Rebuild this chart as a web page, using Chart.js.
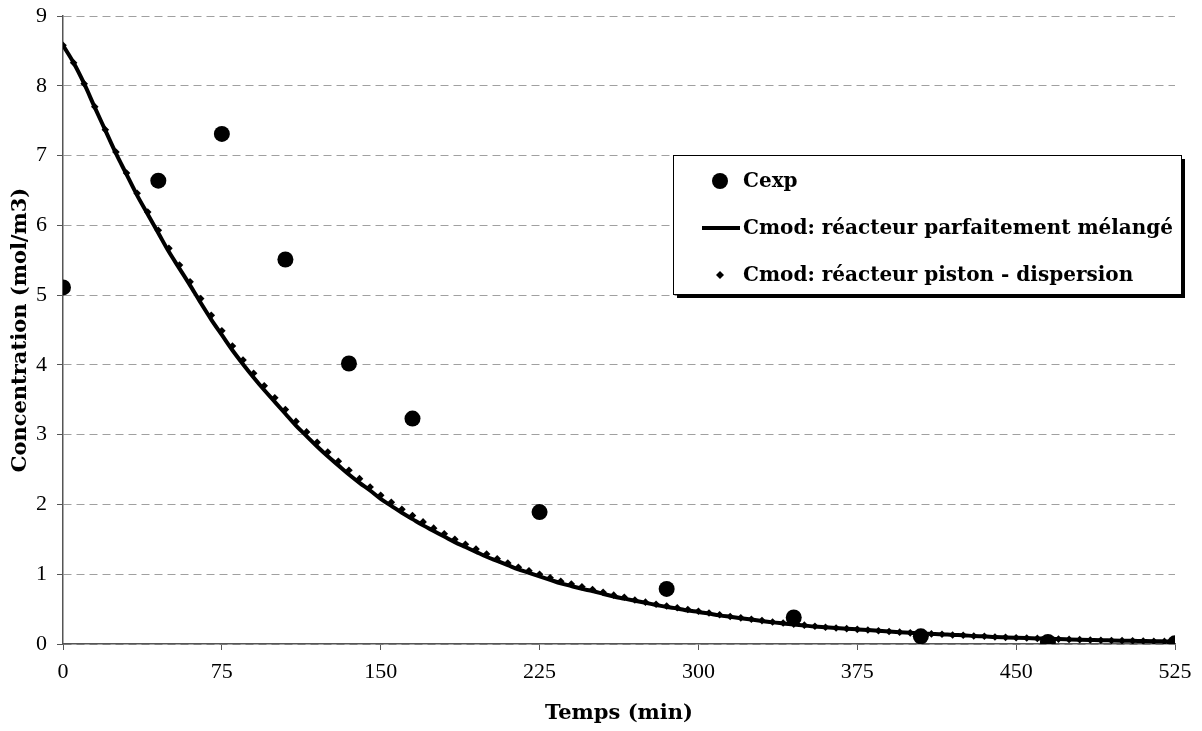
<!DOCTYPE html>
<html>
<head>
<meta charset="utf-8">
<script src="https://cdn.jsdelivr.net/npm/chart.js@4/dist/chart.umd.min.js"></script>
<style>
  html, body { margin: 0; padding: 0; background: #fff; }
  #wrap { width: 1202px; height: 731px; position: relative; }
</style>
</head>
<body>
<div id="wrap"><canvas id="chart" width="1202" height="731"></canvas></div>
<script>
// experimental points
const expTimes = [0, 45, 75, 105, 135, 165, 225, 285, 345, 405, 465, 525];
const expConc = [5.11, 6.64, 7.31, 5.51, 4.02, 3.23, 1.89, 0.79, 0.38, 0.11, 0.03, 0.01];

// model curves, read every 5 min
const modTimes = [
  0, 5, 10, 15, 20, 25, 30, 35, 40, 45, 50, 55, 60, 65, 70, 75, 80, 85, 90, 95,
  100, 105, 110, 115, 120, 125, 130, 135, 140, 145, 150, 155, 160, 165, 170, 175, 180, 185, 190, 195,
  200, 205, 210, 215, 220, 225, 230, 235, 240, 245, 250, 255, 260, 265, 270, 275, 280, 285, 290, 295,
  300, 305, 310, 315, 320, 325, 330, 335, 340, 345, 350, 355, 360, 365, 370, 375, 380, 385, 390, 395,
  400, 405, 410, 415, 420, 425, 430, 435, 440, 445, 450, 455, 460, 465, 470, 475, 480, 485, 490, 495,
  500, 505, 510, 515, 520, 525
];
const mixedConc = [
  8.58, 8.33, 8.03, 7.69, 7.36, 7.03, 6.73, 6.43, 6.16, 5.89, 5.62, 5.38, 5.14, 4.89, 4.65, 4.43, 4.21, 4.01, 3.82, 3.64,
  3.47, 3.30, 3.13, 2.98, 2.83, 2.69, 2.56, 2.43, 2.31, 2.20, 2.08, 1.98, 1.88, 1.79, 1.70, 1.62, 1.54, 1.46, 1.39, 1.32,
  1.25, 1.19, 1.13, 1.07, 1.02, 0.97, 0.92, 0.87, 0.83, 0.79, 0.76, 0.72, 0.68, 0.65, 0.62, 0.59, 0.56, 0.53, 0.51, 0.48,
  0.46, 0.435, 0.41, 0.39, 0.37, 0.35, 0.33, 0.31, 0.295, 0.28, 0.265, 0.25, 0.24, 0.23, 0.22, 0.21, 0.20, 0.19, 0.18, 0.17,
  0.16, 0.15, 0.145, 0.14, 0.13, 0.125, 0.115, 0.11, 0.10, 0.095, 0.09, 0.085, 0.08, 0.075, 0.07, 0.066, 0.062, 0.058, 0.054, 0.051,
  0.048, 0.045, 0.042, 0.039, 0.037, 0.035
];
const pistonConc = [
  8.58, 8.33, 8.03, 7.70, 7.37, 7.05, 6.75, 6.46, 6.19, 5.93, 5.67, 5.43, 5.19, 4.95, 4.71, 4.49, 4.27, 4.07, 3.88, 3.70,
  3.53, 3.36, 3.19, 3.04, 2.89, 2.75, 2.62, 2.49, 2.37, 2.25, 2.13, 2.03, 1.93, 1.84, 1.75, 1.66, 1.58, 1.50, 1.43, 1.36,
  1.29, 1.22, 1.16, 1.10, 1.05, 1.00, 0.95, 0.90, 0.86, 0.82, 0.78, 0.74, 0.70, 0.67, 0.63, 0.60, 0.57, 0.545, 0.52, 0.495,
  0.47, 0.445, 0.42, 0.395, 0.375, 0.355, 0.335, 0.315, 0.30, 0.285, 0.27, 0.255, 0.24, 0.23, 0.22, 0.21, 0.20, 0.19, 0.18, 0.17,
  0.16, 0.15, 0.145, 0.14, 0.13, 0.125, 0.115, 0.11, 0.10, 0.095, 0.09, 0.085, 0.08, 0.075, 0.07, 0.066, 0.062, 0.058, 0.054, 0.051,
  0.048, 0.045, 0.042, 0.039, 0.037, 0.035
];

const seriesNames = ['Cexp', 'Cmod: réacteur parfaitement mélangé', 'Cmod: réacteur piston - dispersion'];
const xTitle = 'Temps (min)';
const yTitle = 'Concentration (mol/m3)';

const TICK_FONT = { family: "'Liberation Serif', serif", size: 22 };
const BOLD_FONT = "'DejaVu Serif', serif";

function pairs(xs, ys) {
  return xs.map((x, i) => ({ x: x, y: ys[i] }));
}

// legend box with drop shadow, drawn inside the plot area
const boxLegend = {
  id: 'boxLegend',
  afterDraw(chart) {
    const ctx = chart.ctx;
    const left = 673, top = 155, w = 508, h = 139;
    ctx.save();
    ctx.fillStyle = '#000';
    ctx.fillRect(left + 4, top + 4, w, h);
    ctx.fillStyle = '#fff';
    ctx.fillRect(left, top, w, h);
    ctx.strokeStyle = '#000';
    ctx.lineWidth = 1;
    ctx.strokeRect(left + 0.5, top + 0.5, w, h);

    const rows = [181, 228, 275];
    const mx = 720;
    ctx.font = 'bold 20px ' + BOLD_FONT;
    ctx.textBaseline = 'middle';
    ctx.textAlign = 'left';
    chart.data.datasets.forEach((ds, i) => {
      const y = rows[i];
      ctx.fillStyle = '#000';
      ctx.strokeStyle = '#000';
      if (ds.pointStyle === 'circle') {
        ctx.beginPath();
        ctx.arc(mx, y, 8, 0, Math.PI * 2);
        ctx.fill();
      } else if (ds.pointStyle === 'rectRot') {
        ctx.beginPath();
        ctx.moveTo(mx, y - 4);
        ctx.lineTo(mx + 4, y);
        ctx.lineTo(mx, y + 4);
        ctx.lineTo(mx - 4, y);
        ctx.closePath();
        ctx.fill();
      } else {
        ctx.lineWidth = 4;
        ctx.beginPath();
        ctx.moveTo(702, y);
        ctx.lineTo(740, y);
        ctx.stroke();
      }
      ctx.fillText(ds.label, 743, y + 1);
    });
    ctx.restore();
  }
};

const ctx = document.getElementById('chart').getContext('2d');
const chart = new Chart(ctx, {
  type: 'scatter',
  data: {
    datasets: [
      {
        label: seriesNames[0],
        data: pairs(expTimes, expConc),
        pointStyle: 'circle',
        pointRadius: 8,
        pointHoverRadius: 8,
        backgroundColor: '#000',
        borderColor: '#000',
        borderWidth: 0,
        showLine: false,
      },
      {
        label: seriesNames[1],
        data: pairs(modTimes, mixedConc),
        pointStyle: false,
        pointRadius: 0,
        borderColor: '#000',
        borderWidth: 4,
        showLine: true,
        cubicInterpolationMode: 'monotone',
      },
      {
        label: seriesNames[2],
        data: pairs(modTimes, pistonConc),
        pointStyle: 'rectRot',
        pointRadius: 3.8,
        backgroundColor: '#000',
        borderColor: '#000',
        borderWidth: 0,
        showLine: false,
      },
    ]
  },
  options: {
    responsive: false,
    animation: false,
    events: [],
    layout: {
      padding: { left: 0, top: 16, right: 27, bottom: 0 },
    },
    plugins: {
      legend: { display: false },
      tooltip: { enabled: false },
    },
    scales: {
      x: {
        type: 'linear',
        min: 0,
        max: 525,
        afterFit: s => { s.height = 87; },
        ticks: {
          stepSize: 75,
          color: '#000',
          font: TICK_FONT,
          padding: 9,
          maxRotation: 0,
        },
        grid: {
          drawOnChartArea: false,
          drawTicks: true,
          tickLength: 6,
          tickColor: '#555',
          color: '#555',
        },
        border: { color: '#555', width: 1.5 },
        title: {
          display: true,
          text: xTitle,
          color: '#000',
          font: { family: BOLD_FONT, size: 21, weight: 'bold' },
          padding: { top: 0, bottom: 5 },
        },
      },
      y: {
        min: 0,
        max: 9,
        afterFit: s => { s.width = 63; s.paddingTop = 0; s.paddingBottom = 0; },
        ticks: {
          stepSize: 1,
          color: '#000',
          font: TICK_FONT,
          padding: 10,
        },
        grid: {
          color: '#a0a0a0',
          lineWidth: 1,
          tickLength: 6,
          tickColor: '#555',
        },
        border: { color: '#555', width: 1.5, dash: [8, 5] },
        title: {
          display: true,
          text: yTitle,
          color: '#000',
          font: { family: BOLD_FONT, size: 21, weight: 'bold' },
          padding: { top: 8, bottom: 0 },
        },
      },
    },
  },
  plugins: [boxLegend],
});
</script>
</body>
</html>
